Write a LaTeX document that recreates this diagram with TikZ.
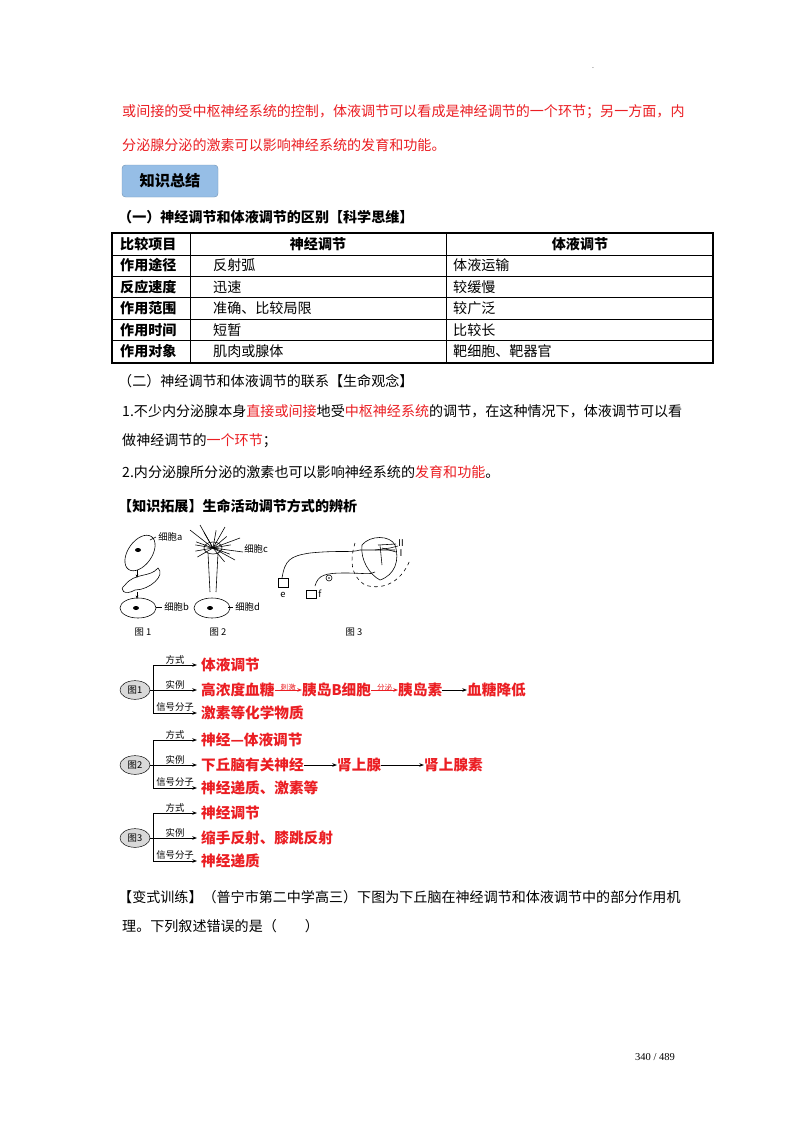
\documentclass[tikz,border=0pt]{standalone}
\usepackage{fontspec}
\setmainfont{Liberation Serif}
\newfontfamily\cjk{Noto Sans CJK SC}
\usetikzlibrary{arrows.meta,shapes.geometric}
\definecolor{red1}{RGB}{235,30,35}
\definecolor{blu}{RGB}{150,190,230}
\tikzset{
 txt/.style={anchor=west,inner sep=0,font=\cjk\fontsize{12}{14}\selectfont},
 rtxt/.style={txt,text=red1},
 btxt/.style={txt,font=\cjk\bfseries\fontsize{12}{14}\selectfont},
 cell/.style={anchor=west,inner sep=0,font=\cjk\fontsize{12}{14}\selectfont},
 small/.style={inner sep=0,font=\cjk\fontsize{6}{7}\selectfont},
 brtxt/.style={anchor=west,inner sep=0,text=red1,font=\cjk\bfseries\fontsize{12.5}{14}\selectfont},
 lab/.style={inner sep=0,font=\cjk\fontsize{8}{9}\selectfont},
 arr/.style={-{Stealth[length=4pt]},line width=0.7pt},
 fig/.style={ellipse,draw,fill=gray!30,inner sep=0,font=\cjk\fontsize{8}{9}\selectfont}
}
\begin{document}
\begin{tikzpicture}[x=0.3mm,y=-0.3mm]
\useasboundingbox (0,0) rectangle (800,1132);
\fill[white] (0,0) rectangle (800,1132);
\node[small] (dot) at (593,68) {.};
\node[rtxt] (l1) at (122,112) {或间接的受中枢神经系统的控制，体液调节可以看成是神经调节的一个环节；另一方面，内};
\node[rtxt] (l2) at (122,145) {分泌腺分泌的激素可以影响神经系统的发育和功能。};
\node[draw=blu!80!black,fill=blu,rounded corners=3pt,minimum width=96*0.3mm,minimum height=32*0.3mm,font=\cjk\bfseries\fontsize{13}{14}\selectfont] (box) at (170,181) {知识总结};
\node[btxt] (h1) at (118,217) {（一）神经调节和体液调节的区别【科学思维】};
% table
\draw[line width=0.9pt] (112,233) rectangle (713,363);
\foreach \y in {255,276,297,319,340} \draw[line width=0.6pt] (112,\y) -- (713,\y);
\draw[line width=0.6pt] (190,233) -- (190,363) (446,233) -- (446,363);
\node[btxt] (c00) at (120,244) {比较项目};
\node[btxt,anchor=center] (c01) at (318,244) {神经调节};
\node[btxt,anchor=center] (c02) at (580,244) {体液调节};
\foreach \a/\b/\c [count=\i] in {作用途径/反射弧/体液运输,反应速度/迅速/较缓慢,作用范围/准确、比较局限/较广泛,作用时间/短暂/比较长,作用对象/肌肉或腺体/靶细胞、靶器官}{
 \node[btxt] (r\i a) at (120,244+21.5*\i) {\a};
 \node[cell] (r\i b) at (213,244+21.5*\i) {\b};
 \node[cell] (r\i c) at (453,244+21.5*\i) {\c};
}
\node[txt] (h2) at (118,381) {（二）神经调节和体液调节的联系【生命观念】};
\node[txt] (p1) at (122,411) {1.不少内分泌腺本身\textcolor{red1}{直接或间接}地受\textcolor{red1}{中枢神经系统}的调节，在这种情况下，体液调节可以看};
\node[txt] (p2) at (122,441) {做神经调节的\textcolor{red1}{一个环节}；};
\node[txt] (p3) at (122,472) {2.内分泌腺所分泌的激素也可以影响神经系统的\textcolor{red1}{发育和功能}。};
\node[btxt] (h3) at (118,506) {【知识拓展】生命活动调节方式的辨析};
% figure 1
\begin{scope}[line width=0.5pt]
\draw[rotate around={-35:(140,553)}] (140,553) ellipse (12 and 20);
\fill (138,550) ellipse (3 and 2);
\draw[-{Stealth[length=3pt]}] (137,570) -- (137,578);
\draw (125,585) .. controls (135,572) and (150,578) .. (158,568) .. controls (166,575) and (150,590) .. (135,590) .. controls (125,596) and (118,590) .. (125,585);
\draw[-{Stealth[length=3pt]}] (137,592) -- (137,599);
\draw (138,608) ellipse (18 and 10);
\fill (136,608) ellipse (3 and 2);
\draw (150,540) -- (156,537);
\node[lab,anchor=west] (ca) at (158,537) {细胞a};
\draw (156,607) -- (162,607);
\node[lab,anchor=west] (cb) at (164,607) {细胞b};
\node[lab] (t1) at (143,632) {图 1};
% figure 2
\draw (213,548) ellipse (9 and 6);
\draw (208,553) -- (210,592) (218,553) -- (216,592);
\foreach \ang in {20,60,100,140,170,200,230,330,350,10} \draw (213,548) -- ++(\ang:-18);
\draw (213,548) -- (240,538) (213,548) -- (243,552) (213,548) -- (235,560) (213,548)--(190,530) (213,548)--(200,525) (213,548)--(225,527);
\draw (212,608) ellipse (18 and 10);
\fill (210,608) ellipse (3 and 2);
\draw (228,607) -- (233,607);
\node[lab,anchor=west] (cc) at (244,549) {细胞c};
\node[lab,anchor=west] (cd) at (235,607) {细胞d};
\node[lab] (t2) at (218,632) {图 2};
% figure 3
\draw (282,578) .. controls (285,560) and (290,556) .. (310,553) .. controls (340,550) and (350,553) .. (360,550) -- (395,550);
\draw (315,586) .. controls (318,575) and (325,573) .. (345,573) .. controls (365,573) and (370,575) .. (375,572);
\draw[dashed] (355,543) .. controls (350,560) and (350,575) .. (365,585) .. controls (380,590) and (400,585) .. (410,560);
\draw (362,545) .. controls (370,535) and (390,535) .. (395,545) .. controls (400,560) and (395,575) .. (380,580) .. controls (370,575) and (360,560) .. (362,545);
\draw (380,545) -- (382,565) (375,550) -- (390,548) -- (398,546);
\draw (378,545) -- (396,544) (382,548) -- (396,552);
\draw (329,578) circle (3); \fill (329,578) circle (0.8);
\draw (278,578) rectangle (288,587);
\draw (306,590) rectangle (316,598);
\node[lab] (e) at (283,595) {e};
\node[lab,anchor=west] (f) at (318,594) {f};
\node[lab,anchor=west] (II) at (396,543) {Ⅱ};
\node[lab,anchor=west] (I) at (396,553) {Ⅰ};
\node[lab] (t3) at (354,632) {图 3};
\end{scope}
% diagrams
\foreach \k/\yc/\a/\c in {1/690/体液调节/激素等化学物质,2/765/神经—体液调节/神经递质、激素等,3/838/神经调节/神经递质}{
 \node[fig,minimum width=9mm,minimum height=5.6mm] (g\k) at (135,\yc) {图\k};
 \draw[line width=0.7pt] (g\k.east) -- (153,\yc) (153,\yc-25) -- (153,\yc+23);
 \coordinate (ta\k) at (197,\yc-25);
 \coordinate (tb\k) at (197,\yc);
 \coordinate (tc\k) at (197,\yc+23);
 \draw[arr] (153,\yc-25) -- (ta\k);
 \draw[arr] (g\k.east) -- (tb\k);
 \draw[arr] (153,\yc+23) -- (tc\k);
 \node[lab,anchor=south] (fa\k) at (175,\yc-26) {方式};
 \node[lab,anchor=south] (fb\k) at (175,\yc-1) {实例};
 \node[lab,anchor=south] (fc\k) at (175,\yc+22) {信号分子};
 \node[brtxt] (ra\k) at (201,\yc-25) {\a};
 \node[brtxt] (rc\k) at (201,\yc+23) {\c};
}
\node[brtxt] (rb3) at (201,838) {缩手反射、膝跳反射};
% example 1
\node[brtxt] (x1) at (201,690) {高浓度血糖};
\node[brtxt] (x2) at (302,690) {胰岛B细胞};
\node[brtxt] (x3) at (398,690) {胰岛素};
\node[brtxt] (x4) at (467,690) {血糖降低};
\draw[arr,red1] (x1) -- node[above=-1pt,lab,font=\cjk\fontsize{6.5}{7}\selectfont,text=red1] {刺激} (x2);
\draw[arr,red1] (x2) -- node[above=-1pt,lab,font=\cjk\fontsize{6.5}{7}\selectfont,text=red1] {分泌} (x3);
\draw[arr] (x3) -- (x4);
% example 2
\node[brtxt] (y1) at (201,765) {下丘脑有关神经};
\node[brtxt] (y2) at (337,765) {肾上腺};
\node[brtxt] (y3) at (424,765) {肾上腺素};
\draw[arr] (y1) -- (y2);
\draw[arr] (y2) -- (y3);
\node[txt] (q1) at (118,897) {【变式训练】（普宁市第二中学高三）下图为下丘脑在神经调节和体液调节中的部分作用机};
\node[txt] (q2) at (122,926) {理。下列叙述错误的是（\hspace{2em}）};
\node[inner sep=0,font=\fontsize{9}{10}\selectfont] (pg) at (655,1057) {340 / 489};
\end{tikzpicture}
\end{document}
